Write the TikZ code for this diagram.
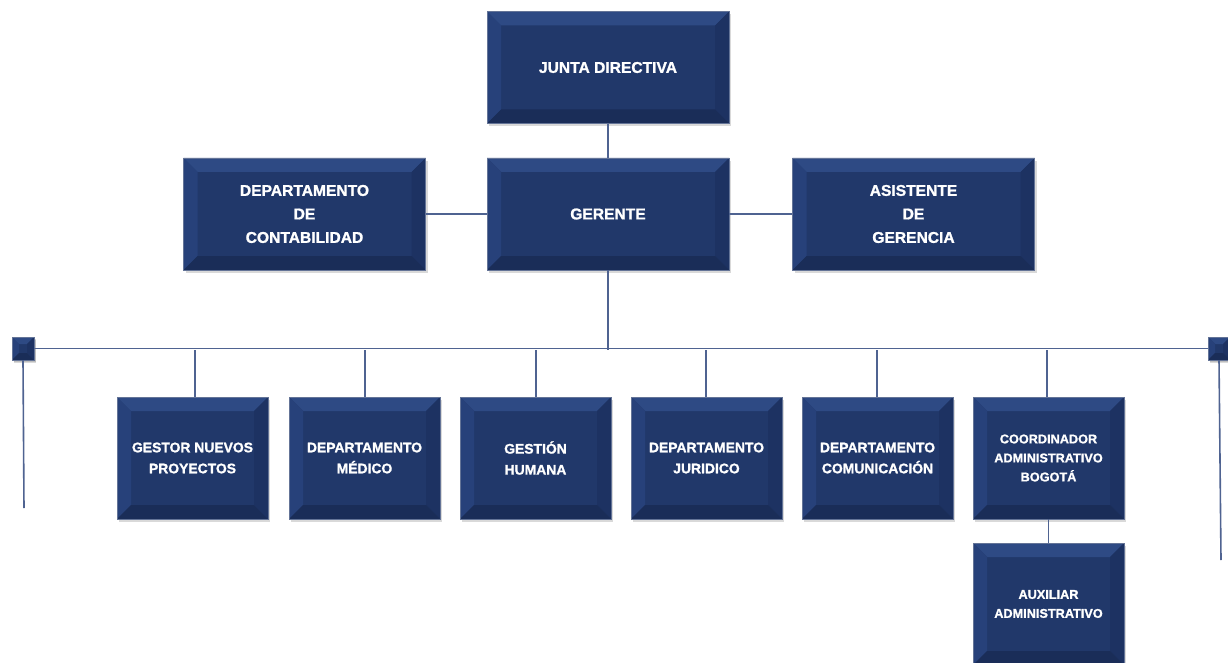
\documentclass[tikz,border=0pt]{standalone}
\usepackage{fontspec}
\setmainfont{Liberation Sans}
\newfontfamily\boxfont{Liberation Sans Bold}[FakeBold=1.3]
\usetikzlibrary{shadows}
\definecolor{navy}{HTML}{21386A}
\definecolor{navytop}{HTML}{2E4A84}
\definecolor{navyleft}{HTML}{27417A}
\definecolor{navyright}{HTML}{1D3262}
\definecolor{navybot}{HTML}{1A2D58}
\definecolor{linec}{HTML}{4F6391}
\tikzset{
  bev/.style={fill=navy, draw=navy!70!white, line width=0.4pt, text=white, align=center, inner sep=0pt,
    drop shadow={opacity=0.3, shadow xshift=2pt, shadow yshift=-3pt},
    path picture={
      \fill[navytop] (path picture bounding box.north west) -- (path picture bounding box.north east)
        -- ([xshift=-#1,yshift=-#1]path picture bounding box.north east) -- ([xshift=#1,yshift=-#1]path picture bounding box.north west) -- cycle;
      \fill[navyleft] (path picture bounding box.north west) -- ([xshift=#1,yshift=-#1]path picture bounding box.north west)
        -- ([xshift=#1,yshift=#1]path picture bounding box.south west) -- (path picture bounding box.south west) -- cycle;
      \fill[navyright] (path picture bounding box.north east) -- ([xshift=-#1,yshift=-#1]path picture bounding box.north east)
        -- ([xshift=-#1,yshift=#1]path picture bounding box.south east) -- (path picture bounding box.south east) -- cycle;
      \fill[navybot] (path picture bounding box.south west) -- ([xshift=#1,yshift=#1]path picture bounding box.south west)
        -- ([xshift=-#1,yshift=#1]path picture bounding box.south east) -- (path picture bounding box.south east) -- cycle;
    }},
  bev/.default=14pt,
  topbox/.style={bev, minimum width=242pt, minimum height=112pt, font=\boxfont\fontsize{15.6}{23.5}\selectfont},
  botbox/.style={bev, minimum width=151pt, minimum height=122pt, font=\boxfont\fontsize{13.9}{21}\selectfont},
  smallbox/.style={bev, minimum width=151pt, minimum height=122pt, font=\boxfont\fontsize{12.7}{19}\selectfont},
  sq/.style={bev=7pt, minimum width=22pt, minimum height=23pt, drop shadow={opacity=0.3, shadow xshift=1.5pt, shadow yshift=-2pt}},
  conn/.style={draw=linec, line width=1.6pt}
}
\begin{document}
\begin{tikzpicture}[x=1pt,y=-1pt]
\useasboundingbox (0,0) rectangle (1228,663);
% nodes
\node[topbox] (junta) at (608,67.5) {JUNTA DIRECTIVA};
\node[topbox] (ger) at (608,214) {GERENTE};
\node[topbox] (cont) at (304.5,214) {DEPARTAMENTO\\DE\\CONTABILIDAD};
\node[topbox] (asis) at (913.5,214) {ASISTENTE\\DE\\GERENCIA};
\node[sq] (sqL) at (23,348.5) {};
\node[sq] (sqR) at (1219,348.5) {};
\node[botbox] (b1) at (192.5,458) {GESTOR NUEVOS\\PROYECTOS};
\node[botbox] (b2) at (364.5,458) {DEPARTAMENTO\\MÉDICO};
\node[botbox] (b3) at (535.5,458) {GESTIÓN\\HUMANA};
\node[botbox] (b4) at (706.5,458) {DEPARTAMENTO\\JURIDICO};
\node[botbox] (b5) at (877.5,458) {DEPARTAMENTO\\COMUNICACIÓN};
\node[smallbox] (b6) at (1048.5,458) {COORDINADOR\\ADMINISTRATIVO\\BOGOTÁ};
\node[smallbox] (aux) at (1048.5,604) {AUXILIAR\\ADMINISTRATIVO};
\coordinate (bus) at (608,350);
\coordinate (endL) at (24,508);
\coordinate (endR) at (1221,560);
% connectors
\draw[conn] (junta.south) -- (ger.north);
\draw[conn] (ger.west) -- (cont.east);
\draw[conn] (ger.east) -- (asis.west);
\draw[conn] (ger.south) -- (bus);
\draw[conn] (sqL.east) -- (sqR.west);
\draw[conn] (sqL.south) -- (endL);
\draw[conn] (sqR.south) -- (endR);
\foreach \x in {195,365,536,706,877,1047} {
  \draw[conn] (\x,350) -- (\x,397);
}
\draw[conn] (b6.south) -- (aux.north);
\end{tikzpicture}
\end{document}
